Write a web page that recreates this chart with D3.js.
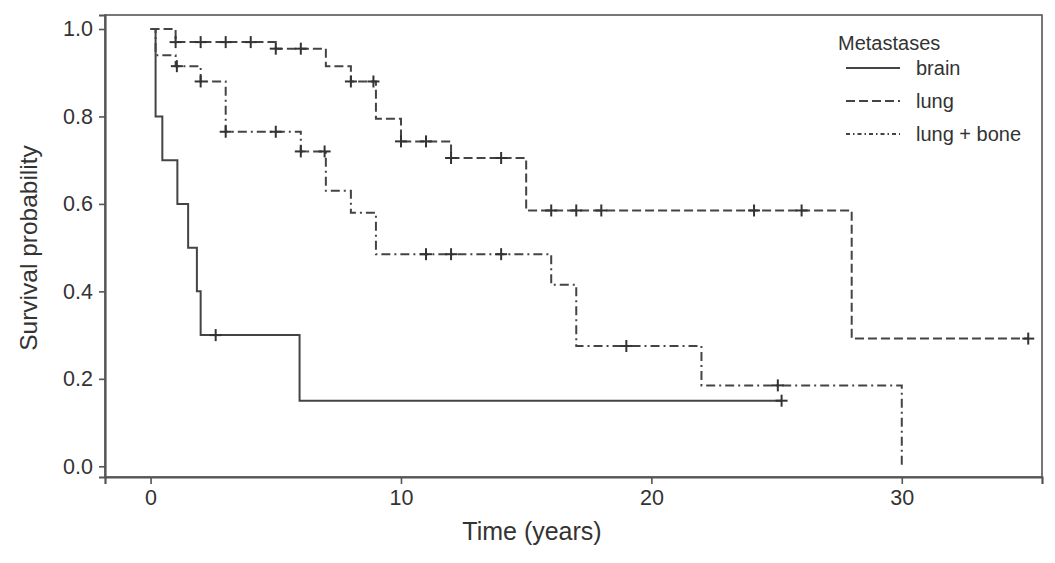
<!DOCTYPE html>
<html>
<head>
<meta charset="utf-8">
<script src="https://cdn.jsdelivr.net/npm/d3@7"></script>
<style>
  body { margin: 0; background: #fff; }
  text { font-family: "Liberation Sans", Arial, sans-serif; fill: #333; }
</style>
</head>
<body>
<svg id="chart"></svg>
<script>
// Kaplan-Meier step data: time of each step and survival after it
const brainTime = [0, 0.2, 0.47, 1.07, 1.5, 1.85, 2.0, 5.95];
const brainSurv = [1.0, 0.8, 0.7, 0.6, 0.5, 0.4, 0.3, 0.15];
const brainEnd = 25.2;
const brainCensor = [2.6, 25.2];

const lungTime = [0, 1.0, 5.0, 7.0, 8.0, 9.0, 10.0, 12.0, 15.0, 28.0];
const lungSurv = [1.0, 0.97, 0.955, 0.915, 0.88, 0.795, 0.743, 0.705, 0.585, 0.292];
const lungEnd = 35.05;
const lungCensor = [1.0, 2.0, 3.0, 4.0, 5.0, 6.0, 8.0, 8.9, 10.0, 11.0, 12.0, 14.0,
  16.0, 17.0, 18.0, 24.1, 26.0, 35.05];

const boneTime = [0, 0.2, 1.0, 2.0, 3.0, 6.0, 7.0, 8.0, 9.0, 16.0, 17.0, 22.0, 30.0];
const boneSurv = [1.0, 0.94, 0.915, 0.88, 0.765, 0.72, 0.63, 0.58, 0.485, 0.415, 0.275, 0.185, 0.0];
const boneEnd = 30.0;
const boneCensor = [1.05, 2.0, 3.0, 5.0, 6.0, 6.95, 11.0, 12.0, 14.0, 19.0, 25.05];

const groups = ["brain", "lung", "lung + bone"];
const xTicks = [0, 10, 20, 30];
const yTicks = [0, 0.2, 0.4, 0.6, 0.8, 1.0];

const width = 1055, height = 563;
const margin = { top: 15, right: 13, bottom: 86, left: 105 };

const svg = d3.select("#chart").attr("width", width).attr("height", height);

const x = d3.scaleLinear().domain([-1.82, 35.6])
  .range([margin.left, width - margin.right]);
const y = d3.scaleLinear().domain([-0.0245, 1.032])
  .range([height - margin.bottom, margin.top]);

const ink = "#444";
const dashes = ["none", "9,4", "9,4,2,4"];

// plot frame
svg.append("rect")
  .attr("x", margin.left).attr("y", margin.top)
  .attr("width", width - margin.left - margin.right)
  .attr("height", height - margin.top - margin.bottom)
  .attr("fill", "none").attr("stroke", "#555").attr("stroke-width", 1.6);

const xAxis = svg.append("g")
  .attr("transform", `translate(0,${height - margin.bottom})`)
  .call(d3.axisBottom(x).tickValues(xTicks).tickSize(7).tickPadding(6));
const yAxis = svg.append("g")
  .attr("transform", `translate(${margin.left},0)`)
  .call(d3.axisLeft(y).tickValues(yTicks).tickFormat(d3.format(".1f")).tickSize(6).tickPadding(6));

[xAxis, yAxis].forEach((g) => {
  g.select(".domain").attr("stroke", "#555").attr("stroke-width", 2.2);
  g.selectAll(".tick line").attr("stroke", "#555").attr("stroke-width", 1.6);
  g.selectAll(".tick text").style("font-family", "Liberation Sans, Arial, sans-serif")
    .style("font-size", "21.5px").attr("fill", "#333");
});

// axis titles
svg.append("text")
  .attr("x", 532).attr("y", 540)
  .attr("text-anchor", "middle").style("font-size", "25px")
  .text("Time (years)");

svg.append("text")
  .attr("transform", "rotate(-90)")
  .attr("x", -248).attr("y", 37)
  .attr("text-anchor", "middle").style("font-size", "24.5px")
  .text("Survival probability");

const line = d3.line()
  .x((d) => x(d[0]))
  .y((d) => y(d[1]))
  .curve(d3.curveStepAfter);

const curves = [
  { time: brainTime, surv: brainSurv, end: brainEnd, censor: brainCensor },
  { time: lungTime, surv: lungSurv, end: lungEnd, censor: lungCensor },
  { time: boneTime, surv: boneSurv, end: boneEnd, censor: boneCensor },
];

// survival value at time t (right-continuous step)
function survAt(c, t) {
  let s = c.surv[0];
  c.time.forEach((ti, i) => { if (ti <= t) s = c.surv[i]; });
  return s;
}

curves.forEach((c, k) => {
  const pts = c.time.map((t, i) => [t, c.surv[i]]);
  if (c.end > c.time[c.time.length - 1]) pts.push([c.end, c.surv[c.surv.length - 1]]);

  svg.append("path")
    .datum(pts)
    .attr("d", line)
    .attr("fill", "none")
    .attr("stroke", ink)
    .attr("stroke-width", 2)
    .attr("stroke-dasharray", dashes[k]);

  const marks = svg.append("g").attr("stroke", "#333").attr("stroke-width", 2);
  c.censor.forEach((t) => {
    const cx = x(t), cy = y(survAt(c, t));
    marks.append("line").attr("x1", cx).attr("x2", cx).attr("y1", cy - 6).attr("y2", cy + 6);
    marks.append("line").attr("x1", cx - 6).attr("x2", cx + 6).attr("y1", cy).attr("y2", cy);
  });
});

// legend
const legend = svg.append("g");
legend.append("text")
  .attr("x", 838).attr("y", 50)
  .style("font-size", "20px")
  .text("Metastases");

groups.forEach((name, i) => {
  const ly = 68 + i * 33;
  legend.append("line")
    .attr("x1", 846).attr("x2", 900).attr("y1", ly).attr("y2", ly)
    .attr("stroke", ink).attr("stroke-width", 2)
    .attr("stroke-dasharray", i === 2 ? "4,3,1.5,3" : dashes[i]);
  legend.append("text")
    .attr("x", 916).attr("y", ly + 7)
    .style("font-size", "20px")
    .text(name);
});
</script>
</body>
</html>
